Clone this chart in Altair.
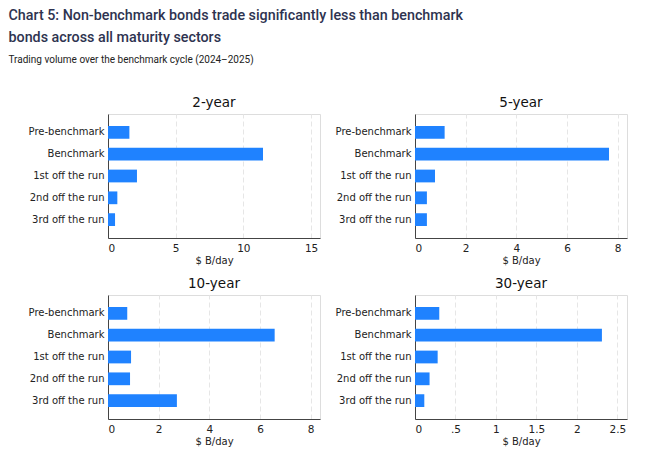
import altair as alt
import pandas as pd

categories = ["Pre-benchmark", "Benchmark", "1st off the run", "2nd off the run", "3rd off the run"]
panels = ["2-year", "5-year", "10-year", "30-year"]
vol_2y = [1.58, 11.45, 2.14, 0.69, 0.52]
vol_5y = [1.17, 7.66, 0.79, 0.47, 0.47]
vol_10y = [0.76, 6.58, 0.91, 0.87, 2.72]
vol_30y = [0.30, 2.31, 0.28, 0.18, 0.115]
ticks_2y = [0, 5, 10, 15]
ticks_5y = [0, 2, 4, 6, 8]
ticks_10y = [0, 2, 4, 6, 8]
ticks_30y = [0, 0.5, 1, 1.5, 2, 2.5]
domain_max = [15.66, 8.37, 8.37, 2.62]

series = [vol_2y, vol_5y, vol_10y, vol_30y]
tick_sets = [ticks_2y, ticks_5y, ticks_10y, ticks_30y]

LABEL_FONT = "DejaVu Sans"
BAR = "#1f82ff"

charts = []
for i, (name, vals, tks, dmax) in enumerate(zip(panels, series, tick_sets, domain_max)):
    df = pd.DataFrame({"category": categories, "value": vals})
    yaxis_kw = dict(title=None, ticks=False, grid=False, domainColor="#444444",
                    labelFont=LABEL_FONT, labelFontSize=10,
                    labelColor="#222222", labelPadding=4)
    if i % 2 == 0:
        yaxis_kw["minExtent"] = 99
    charts.append(
        alt.Chart(df, title=alt.TitleParams(
            name, font=LABEL_FONT, fontSize=13.5, fontWeight="normal",
            color="#111111", offset=5, anchor="middle"))
        .mark_bar(color=BAR)
        .encode(
            x=alt.X("value:Q",
                    scale=alt.Scale(domain=[0, dmax], nice=False, zero=True),
                    axis=alt.Axis(values=tks, title="$ B/day", grid=True,
                                  gridDash=[5, 3], gridColor="#e6e6e6",
                                  ticks=False, domainColor="#444444",
                                  labelExpr="datum.value == 0.5 ? '.5' : format(datum.value, '~g')",
                                  labelFont=LABEL_FONT, labelFontSize=10.5,
                                  labelColor="#222222", labelPadding=5,
                                  titleFont=LABEL_FONT, titleFontSize=10,
                                  titleFontWeight="normal", titleColor="#222222",
                                  titlePadding=2)),
            y=alt.Y("category:N", sort=categories,
                    scale=alt.Scale(paddingInner=0.415, paddingOuter=0.55),
                    axis=alt.Axis(**yaxis_kw)),
        )
        .properties(width=212, height=124)
    )

row1 = alt.hconcat(charts[0], charts[1], spacing=13)
row2 = alt.hconcat(charts[2], charts[3], spacing=13)

chart = (
    alt.vconcat(row1, row2, spacing=10)
    .properties(
        title=alt.TitleParams(
            ["Chart 5: Non-benchmark bonds trade significantly less than benchmark",
             "bonds across all maturity sectors"],
            subtitle="Trading volume over the benchmark cycle (2024\u20132025)",
            anchor="start", font="Roboto", fontSize=14.3, fontWeight=500,
            color="#2e3350", lineHeight=22.6,
            subtitleFont="Roboto", subtitleFontSize=10, subtitleColor="#222222",
            subtitlePadding=9, offset=30.5),
        padding={"left": 0, "top": 0, "right": 5, "bottom": 5},
    )
    .configure_view(stroke=None)
    .configure(background="white")
)

chart.save("out.html", embed_options={"renderer": "svg", "actions": False})
